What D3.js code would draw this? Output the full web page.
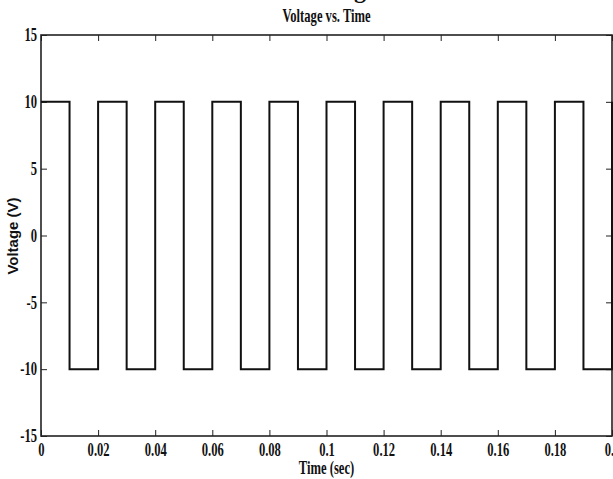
<!DOCTYPE html>
<html lang="en">

<head>
    <meta charset="UTF-8">
    <title>Voltage vs. Time</title>
    <style>
        body {
            margin: 0;
            background: #ffffff;
        }

        svg text {
            font-family: 'Liberation Serif', 'Times New Roman', serif;
            font-weight: bold;
            fill: #111;
        }

        .axis path,
        .axis line {
            stroke: #222;
        }
    </style>
</head>

<body>
    <div id='chart'></div>
</body>

</html>
<script src="https://cdnjs.cloudflare.com/ajax/libs/d3/7.8.5/d3.min.js"></script>
<script>
    // switching instants of the square wave (sec) and the level held from each one
    const times = [0, 0.01, 0.02, 0.03, 0.04, 0.05, 0.06, 0.07, 0.08, 0.09, 0.1,
        0.11, 0.12, 0.13, 0.14, 0.15, 0.16, 0.17, 0.18, 0.19, 0.2];
    const volts = [10, -10, 10, -10, 10, -10, 10, -10, 10, -10, 10,
        -10, 10, -10, 10, -10, 10, -10, 10, -10, 10];

    const xTicks = [0, 0.02, 0.04, 0.06, 0.08, 0.1, 0.12, 0.14, 0.16, 0.18, 0.2];
    const yTicks = [-15, -10, -5, 0, 5, 10, 15];

    const W = 613, H = 479;
    const margin = { top: 35, right: 1, bottom: 43, left: 41 };
    const width = W - margin.left - margin.right;
    const height = H - margin.top - margin.bottom;
    const squeeze = 0.7; // the labels in the picture look horizontally condensed

    const svg = d3.select('#chart').append('svg')
        .attr('width', W)
        .attr('height', H);

    // cut off line of text above the title
    svg.append('text')
        .attr('x', 360)
        .attr('y', -2)
        .attr('text-anchor', 'middle')
        .attr('font-size', 24)
        .attr('font-weight', 'normal')
        .text('g');

    const g = svg.append('g')
        .attr('transform', 'translate(' + margin.left + ',' + margin.top + ')');

    const x = d3.scaleLinear().domain([0, 0.2]).range([0, width]);
    const y = d3.scaleLinear().domain([-15, 15]).range([height, 0]);

    const plain = function (d) { return String(d); }; // hyphen minus, like the picture

    // title
    g.append('text')
        .attr('transform', 'translate(' + (width / 2) + ',-13) scale(' + squeeze + ',1)')
        .attr('text-anchor', 'middle')
        .attr('font-size', 18)
        .text('Voltage vs. Time');

    // bottom axis
    const xAxis = g.append('g')
        .attr('class', 'axis')
        .attr('transform', 'translate(0,' + height + ')')
        .call(d3.axisBottom(x).tickValues(xTicks).tickSizeInner(-6).tickSizeOuter(0)
            .tickPadding(7).tickFormat(plain));
    xAxis.selectAll('text')
        .attr('font-size', 18)
        .attr('transform', 'scale(' + squeeze + ',1)');
    xAxis.select('.domain').remove();

    // left axis
    const yAxis = g.append('g')
        .attr('class', 'axis')
        .call(d3.axisLeft(y).tickValues(yTicks).tickSizeInner(-6).tickSizeOuter(0).tickFormat(plain));
    yAxis.selectAll('text')
        .attr('font-size', 18)
        .attr('x', -4 / squeeze)
        .attr('transform', 'scale(' + squeeze + ',1)');
    yAxis.select('.domain').remove();

    // top and right mirror ticks
    g.append('g')
        .attr('class', 'axis')
        .call(d3.axisTop(x).tickValues(xTicks).tickSizeInner(-6).tickSizeOuter(0).tickFormat(''))
        .select('.domain').remove();
    g.append('g')
        .attr('class', 'axis')
        .attr('transform', 'translate(' + width + ',0)')
        .call(d3.axisRight(y).tickValues(yTicks).tickSizeInner(-6).tickSizeOuter(0).tickFormat(''))
        .select('.domain').remove();

    // frame
    g.append('rect')
        .attr('x', 0)
        .attr('y', 0)
        .attr('width', width)
        .attr('height', height)
        .attr('fill', 'none')
        .attr('stroke', '#222')
        .attr('stroke-width', 1.6);

    // waveform
    const pts = times.map(function (t, i) {
        return [t, volts[i]];
    });
    const line = d3.line()
        .x(function (d) { return x(d[0]); })
        .y(function (d) { return y(d[1]); })
        .curve(d3.curveStepAfter);
    g.append('path')
        .datum(pts)
        .attr('fill', 'none')
        .attr('stroke', '#111')
        .attr('stroke-width', 2)
        .attr('d', line);

    // axis labels
    g.append('text')
        .attr('transform', 'translate(' + (width / 2) + ',' + (height + 38) + ') scale(' + squeeze + ',1)')
        .attr('text-anchor', 'middle')
        .attr('font-size', 18)
        .text('Time (sec)');

    svg.append('text')
        .attr('transform', 'translate(18,236) rotate(-90)')
        .attr('text-anchor', 'middle')
        .style('font-family', "'Liberation Sans', Arial, sans-serif")
        .attr('font-size', 15)
        .text('Voltage (V)');
</script>
